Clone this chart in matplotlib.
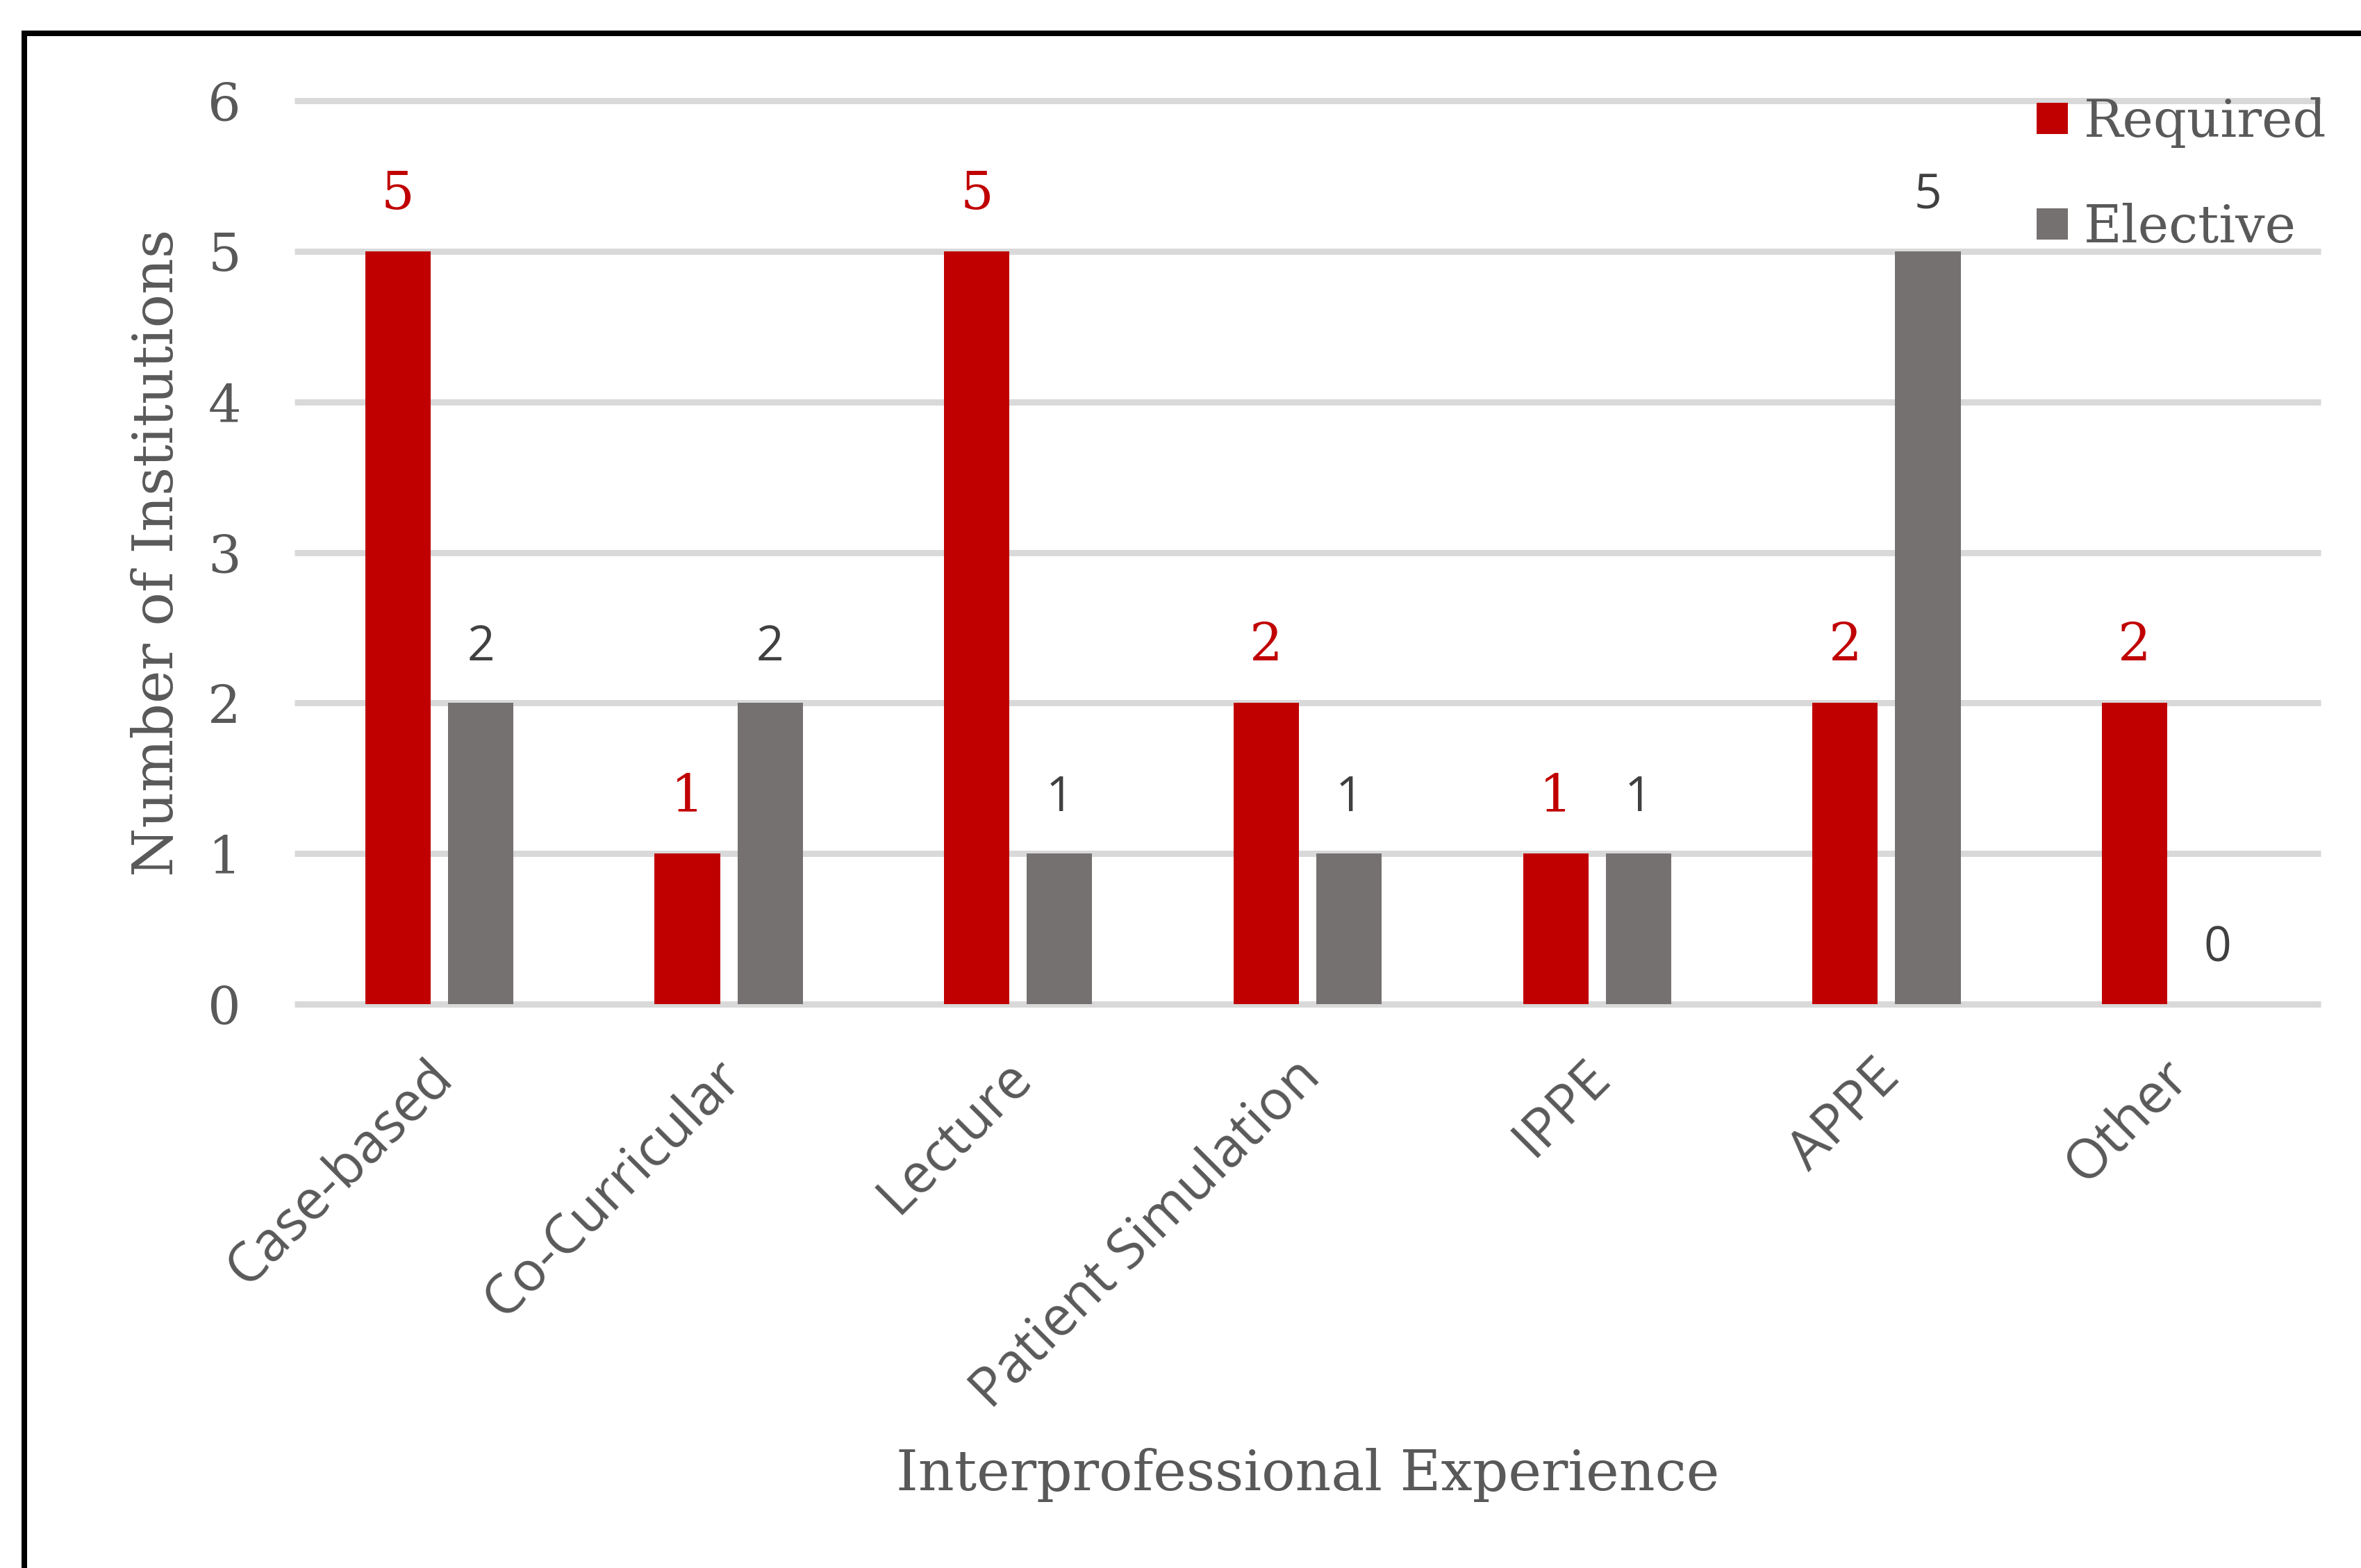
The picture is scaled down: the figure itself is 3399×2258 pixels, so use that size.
import matplotlib

matplotlib.use("Agg")
import matplotlib.pyplot as plt
import numpy as np
from matplotlib.lines import Line2D
from matplotlib.transforms import ScaledTranslation

categories = ["Case-based", "Co-Curricular", "Lecture", "Patient Simulation",
              "IPPE", "APPE", "Other"]
required = [5, 1, 5, 2, 1, 2, 2]
elective = [2, 2, 1, 1, 1, 5, 0]
yticks = [0, 1, 2, 3, 4, 5, 6]

RED = "#C00000"
GREY = "#767171"
TEXT = "#595959"
DARK = "#404040"
SERIF = ["DejaVu Serif", "Liberation Serif"]
SANS = ["Open Sans", "DejaVu Sans"]


def main() -> None:
    W, H, DPI = 3399, 2258, 200
    fig = plt.figure(figsize=(W / DPI, H / DPI), dpi=DPI)

    # plot area in pixels
    left, right, top, bottom = 424, 3341, 145, 1446
    ax = fig.add_axes([left / W, 1 - bottom / H, (right - left) / W, (bottom - top) / H])

    x = np.arange(len(categories))
    width, offset = 0.226, 0.143
    bars_r = ax.bar(x - offset, required, width, color=RED, zorder=2)
    bars_e = ax.bar(x + offset, elective, width, color=GREY, zorder=2)

    for rect, val in zip(bars_r, required):
        ax.annotate(str(val), (rect.get_x() + rect.get_width() / 2, val),
                    xytext=(0, 22), textcoords="offset points",
                    ha="center", va="baseline", color=RED,
                    fontsize=27, family=SERIF)
    for rect, val in zip(bars_e, elective):
        ax.annotate(str(val), (rect.get_x() + rect.get_width() / 2, val),
                    xytext=(0, 22), textcoords="offset points",
                    ha="center", va="baseline", color=DARK,
                    fontsize=25, family=SANS)

    ax.set_xlim(-0.5, len(categories) - 0.5)
    ax.set_ylim(0, 6)
    ax.set_yticks(yticks)
    ax.set_yticklabels([str(t) for t in yticks], fontsize=27, family=SERIF, color=TEXT)
    ax.set_xticks(x)
    ax.set_xticklabels(categories, rotation=45, ha="right", va="top",
                       rotation_mode="anchor", fontsize=28.5, family=SANS, color=TEXT)
    ax.tick_params(axis="y", length=0, pad=27.7)
    ax.tick_params(axis="x", length=0, pad=23.7)
    shift = ScaledTranslation(-21 / DPI, 0, fig.dpi_scale_trans)
    for lbl in ax.get_xticklabels():
        lbl.set_transform(lbl.get_transform() + shift)

    ax.grid(axis="y", color="#D9D9D9", linewidth=3.24)
    for gl in ax.get_ygridlines():
        gl.set_clip_on(False)
        gl.set_solid_capstyle("butt")
    ax.set_axisbelow(True)
    for sp in ax.spines.values():
        sp.set_visible(False)

    ax.set_ylabel("Number of Institutions", fontsize=29, family=SERIF, color=TEXT)
    ax.yaxis.label.set_va("baseline")
    ax.yaxis.set_label_coords((249 - left) / (right - left), 0.5)
    ax.set_xlabel("Interprofessional Experience", fontsize=29, family=SERIF, color=TEXT)
    ax.xaxis.label.set_va("baseline")
    ax.xaxis.set_label_coords(0.5, (bottom - 2146) / (bottom - top))

    ax.legend([bars_r, bars_e], ["Required", "Elective"],
              loc="upper left", bbox_to_anchor=(2932 / W, 1 - 140 / H),
              bbox_transform=fig.transFigure, frameon=False, borderpad=0,
              borderaxespad=0, handlelength=0.6, handleheight=0.546,
              handletextpad=0.3, labelspacing=1.06,
              prop={"family": SERIF, "size": 27}, labelcolor=TEXT)

    # outer frame, only left and top edges fall inside the image
    fig.add_artist(Line2D([34.5 / W, 34.5 / W, 1.0], [0, 1 - 48 / H, 1 - 48 / H],
                          color="black", lw=8 * 72 / DPI,
                          transform=fig.transFigure, solid_joinstyle="miter"))

    fig.savefig("out.png", dpi=DPI)


if __name__ == "__main__":
    main()
